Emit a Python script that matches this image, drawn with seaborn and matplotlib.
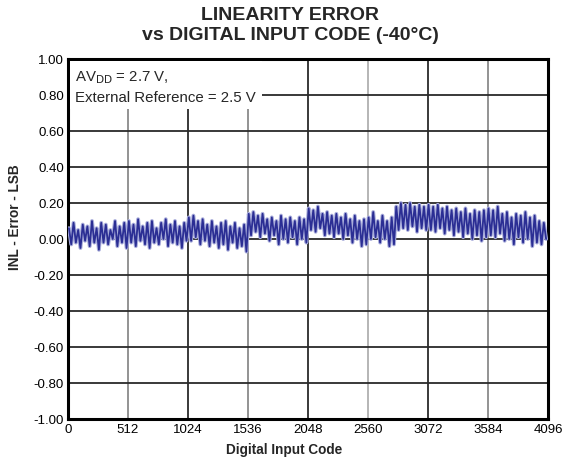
import numpy as np
import pandas as pd
import matplotlib
matplotlib.use("Agg")
import matplotlib.pyplot as plt
from matplotlib.ticker import FormatStrFormatter
import seaborn as sns

# ---- data (peak / trough values, 512-code segments) ----
seg0 = [0.06, -0.03, 0.09, -0.02, 0.05, -0.05, 0.08, -0.01, 0.07, -0.04, 0.10, -0.02, 0.06,
        -0.06, 0.09, -0.02, 0.08, -0.03, 0.05, 0.00, 0.10, -0.04, 0.07, -0.02, 0.09, -0.05]
seg1 = [0.10, -0.02, 0.08, -0.04, 0.11, -0.01, 0.07, -0.03, 0.09, -0.05, 0.10, -0.02, 0.06,
        -0.03, 0.09, 0.00, 0.11, -0.04, 0.08, -0.02, 0.10, -0.03, 0.07, -0.05, 0.09, -0.01]
seg2 = [0.12, -0.01, 0.13, 0.01, 0.10, -0.03, 0.11, -0.01, 0.08, -0.04, 0.10, -0.02, 0.07,
        -0.05, 0.09, -0.03, 0.10, -0.06, 0.07, -0.02, 0.09, -0.05, 0.06, -0.04, 0.08, -0.07]
seg3 = [0.14, 0.02, 0.15, 0.04, 0.13, 0.01, 0.14, 0.03, 0.11, -0.01, 0.12, 0.02, 0.10,
        -0.03, 0.13, 0.00, 0.11, -0.02, 0.12, 0.01, 0.10, -0.03, 0.12, 0.00, 0.11, -0.02]
seg4 = [0.17, 0.05, 0.16, 0.04, 0.18, 0.06, 0.14, 0.02, 0.15, 0.03, 0.13, 0.01, 0.14,
        0.03, 0.12, 0.00, 0.14, 0.02, 0.11, -0.02, 0.13, 0.00, 0.10, -0.04, 0.11, -0.03]
seg5 = [0.12, 0.00, 0.15, 0.01, 0.10, -0.02, 0.13, 0.00, 0.10, -0.04, 0.12, -0.03, 0.18,
        0.05, 0.20, 0.06, 0.19, 0.05, 0.20, 0.07, 0.18, 0.04, 0.19, 0.06, 0.18, 0.05]
seg6 = [0.19, 0.05, 0.18, 0.04, 0.19, 0.06, 0.17, 0.03, 0.18, 0.05, 0.16, 0.02, 0.17,
        0.04, 0.15, 0.01, 0.17, 0.03, 0.14, 0.00, 0.16, 0.02, 0.15, -0.01, 0.16, 0.01]
seg7 = [0.17, 0.02, 0.16, 0.01, 0.18, 0.03, 0.14, -0.01, 0.15, 0.00, 0.12, -0.03, 0.14,
        0.01, 0.13, -0.02, 0.15, 0.00, 0.12, -0.04, 0.13, -0.02, 0.10, -0.03, 0.09, 0.00]

inl_values = seg0 + seg1 + seg2 + seg3 + seg4 + seg5 + seg6 + seg7
codes = np.linspace(8, 4080, len(inl_values))

x_ticks = [0, 512, 1024, 1536, 2048, 2560, 3072, 3584, 4096]
y_ticks = [-1.0, -0.8, -0.6, -0.4, -0.2, 0.0, 0.2, 0.4, 0.6, 0.8, 1.0]

df = pd.DataFrame({"code": codes, "inl": inl_values})

# ---- style ----
sns.set_style("white")
plt.rcParams["font.family"] = ["Liberation Sans", "DejaVu Sans"]

fig = plt.figure(figsize=(5.69, 4.60), dpi=100)
ax = fig.add_axes([68 / 569, 1 - 420 / 460, 480 / 569, 360 / 460])

# light halo underneath + dark trace on top (mimics the dense trace look)
sns.lineplot(data=df, x="code", y="inl", ax=ax, color="#a9addb", linewidth=2.8, zorder=3)
sns.lineplot(data=df, x="code", y="inl", ax=ax, color="#2b2e94", linewidth=1.3, zorder=4)

ax.set_xlim(0, 4096)
ax.set_ylim(-1.0, 1.0)
ax.set_xticks(x_ticks)
ax.set_yticks(y_ticks)
ax.yaxis.set_major_formatter(FormatStrFormatter("%.2f"))
ax.tick_params(axis="both", length=0, labelsize=9.5, pad=3, colors="black")

ax.grid(True, linewidth=1.3, color="#2a2a2a", zorder=1)
vcolors = ["#2a2a2a", "#8a8a8a", "#2a2a2a", "#8a8a8a", "#2a2a2a", "#b0b0b0", "#2a2a2a", "#8a8a8a", "#2a2a2a"]
for gl, c in zip(ax.xaxis.get_gridlines(), vcolors):
    gl.set_color(c)
ax.set_axisbelow(True)

for sp in ax.spines.values():
    sp.set_visible(True)
    sp.set_color("black")
    sp.set_linewidth(2.2)

ax.set_xlabel("Digital Input Code", fontsize=9.8, fontweight="bold")
ax.xaxis.set_label_coords((284 - 68) / 480, -0.064)
ax.set_ylabel("INL - Error - LSB", fontsize=9.8, fontweight="bold")
ax.yaxis.set_label_coords(-0.095, (420 - 217) / 360)

ax.text(0.015, 0.975, "AV$_{\\mathrm{DD}}$ = 2.7 V,\nExternal Reference = 2.5 V",
        transform=ax.transAxes, fontsize=10.8, va="top", ha="left", linespacing=1.45,
        bbox=dict(facecolor="white", edgecolor="none", pad=4), zorder=5)

fig.text(290 / 569, 1 - 15 / 460, "LINEARITY ERROR", ha="center", va="center",
         fontsize=14, fontweight="bold")
fig.text(290 / 569, 1 - 35 / 460, "vs DIGITAL INPUT CODE (-40\u00b0C)", ha="center", va="center",
         fontsize=14, fontweight="bold")

fig.savefig("out.png", dpi=100)
